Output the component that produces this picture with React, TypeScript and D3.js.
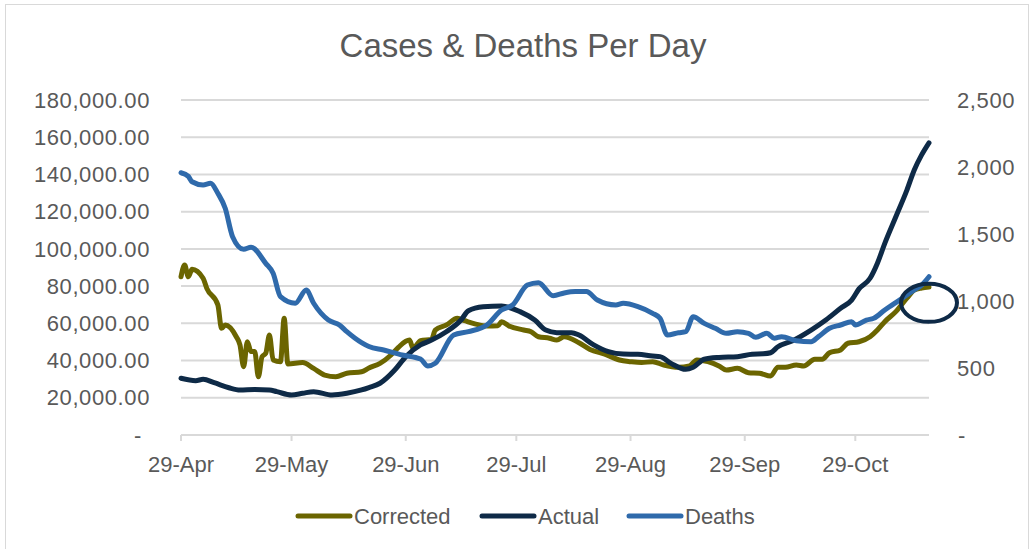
import React from "react";
import * as d3 from "d3";

const W = 1031;
const H = 549;

const startDate = new Date(2020, 3, 29);
const endDate = new Date(2020, 10, 18);

// [days after 29-Apr, value]
const corrected: [number, number][] = [
  [0, 85000], [1, 91300], [2, 85000], [3, 89000], [6, 84200], [7, 78800],
  [10, 69900], [11, 57300], [12, 59100], [15, 52800], [16, 48400], [17, 36700],
  [18, 50100], [19, 44800], [20, 44800], [21, 31300], [22, 42100], [23, 43900],
  [24, 53700], [25, 40300], [27, 39400], [28, 62700], [29, 38200], [33, 38900],
  [36, 35800], [39, 32200], [42, 31300], [45, 33200], [49, 34000], [51, 36000],
  [54, 38500], [57, 43000], [59, 47100], [62, 51000], [63, 46600], [65, 50700],
  [68, 51400], [69, 56400], [72, 59100], [75, 62700], [77, 61400], [80, 59600],
  [83, 58600], [86, 58700], [87, 60900], [89, 58600], [93, 56400], [95, 55500],
  [97, 52800], [100, 52000], [102, 51000], [104, 52800], [108, 49600], [111, 46000],
  [115, 43500], [119, 40300], [122, 39400], [125, 38900], [128, 39400], [131, 37600],
  [135, 36400], [138, 37100], [140, 40300], [143, 39400], [146, 37100], [148, 34900],
  [151, 35800], [154, 33500], [157, 33200], [160, 31700], [162, 36400], [164, 36400],
  [167, 37600], [169, 37100], [172, 40700], [174, 40700], [176, 44200], [179, 45700],
  [181, 49300], [184, 50100], [187, 52800], [189, 56400], [191, 60900], [194, 66300],
  [197, 73500], [199, 77900], [201, 79000], [203, 79500],
];

const actual: [number, number][] = [
  [0, 30500], [4, 29200], [6, 29900], [9, 28100], [13, 25400], [16, 24200],
  [20, 24500], [24, 24200], [26, 23300], [30, 21500], [33, 22400], [36, 23300],
  [41, 21500], [45, 22400], [49, 24200], [51, 25500], [54, 27800], [58, 34900],
  [61, 42100], [65, 48400], [68, 51000], [72, 55500], [76, 61800], [78, 66800],
  [82, 68900], [87, 69300], [92, 66300], [96, 61800], [99, 56400], [102, 55000],
  [106, 55000], [108, 53700], [112, 48400], [116, 44800], [120, 43500], [124, 43400],
  [128, 42400], [130, 42100], [133, 38500], [137, 35300], [139, 36400], [142, 40700],
  [146, 41700], [151, 42100], [155, 43400], [158, 43600], [160, 44200], [162, 47400],
  [166, 50700], [171, 56400], [175, 61800], [179, 68100], [182, 72500], [184, 78500],
  [187, 84200], [189, 92300], [191, 103000], [194, 117300], [197, 131600],
  [199, 142400], [201, 150500], [203, 157000],
];

const deaths: [number, number][] = [
  [0, 1957], [2, 1930], [3, 1890], [6, 1866], [8, 1878], [10, 1804], [12, 1692],
  [14, 1480], [17, 1386], [19, 1401], [23, 1281], [25, 1207], [27, 1032], [31, 983],
  [34, 1082], [36, 983], [40, 858], [43, 821], [45, 771], [49, 689], [51, 660],
  [55, 634], [60, 597], [65, 567], [67, 515], [69, 535], [74, 746], [78, 771],
  [83, 821], [87, 933], [90, 970], [94, 1119], [97, 1137], [101, 1040], [104, 1060],
  [107, 1070], [110, 1070], [113, 1007], [118, 970], [120, 983], [124, 958], [128, 908],
  [130, 871], [132, 746], [135, 763], [137, 771], [139, 883], [142, 833], [145, 796],
  [148, 759], [151, 771], [154, 759], [156, 729], [159, 759], [161, 722], [163, 734],
  [167, 704], [171, 696], [173, 734], [176, 796], [179, 821], [182, 846], [183, 821],
  [186, 858], [188, 871], [191, 933], [195, 1007], [199, 1082], [201, 1119], [203, 1181],
];

const leftTicks = [0, 20000, 40000, 60000, 80000, 100000, 120000, 140000, 160000, 180000];
const rightTicks = [0, 500, 1000, 1500, 2000, 2500];
const tickDates = ["2020-04-29", "2020-05-29", "2020-06-29", "2020-07-29", "2020-08-29", "2020-09-29", "2020-10-29"];
const seriesNames = ["Corrected", "Actual", "Deaths"];
const seriesColors = ["#6b6500", "#0e2a47", "#2f6aab"];

// circled annotation at the end of the corrected line (left axis units)
const circleValue = 71000;

const font = "'Liberation Sans', Arial, sans-serif";
const textColor = "#595959";
const gridColor = "#d9d9d9";

export default function App() {
  const x = d3.scaleTime().domain([startDate, endDate]).range([181, 929]);
  const yLeft = d3.scaleLinear().domain([0, 180000]).range([435, 100]);
  const yRight = d3.scaleLinear().domain([0, 2500]).range([435, 100]);

  const toDate = (d: number) => d3.timeDay.offset(startDate, d);
  const leftLine = d3
    .line<[number, number]>()
    .x((d) => x(toDate(d[0])))
    .y((d) => yLeft(d[1]))
    .curve(d3.curveMonotoneX);
  const rightLine = d3
    .line<[number, number]>()
    .x((d) => x(toDate(d[0])))
    .y((d) => yRight(d[1]))
    .curve(d3.curveMonotoneX);

  const fmtLeft = d3.format(",.2f");
  const fmtRight = d3.format(",");
  const fmtDate = d3.timeFormat("%d-%b");
  const parse = d3.timeParse("%Y-%m-%d");

  const paths = [leftLine(corrected), leftLine(actual), rightLine(deaths)];
  const legendX = [298, 482, 629];

  return (
    <svg
      width={W}
      height={H}
      style={{ position: "absolute", left: 0, top: 0, background: "#fff", fontFamily: font }}
    >
      <rect x={5.5} y={4.5} width={1023} height={570} fill="#fff" stroke={gridColor} />
      <text x={523} y={57} textAnchor="middle" fontSize={33} fill={textColor}>
        Cases &amp; Deaths Per Day
      </text>

      {leftTicks.map((t) => (
        <g key={"l" + t}>
          <line x1={181} x2={929} y1={yLeft(t)} y2={yLeft(t)} stroke={gridColor} strokeWidth={2} />
          <text
            x={t === 0 ? 142 : 150}
            y={yLeft(t)}
            dy="0.35em"
            textAnchor="end"
            fontSize={22}
            fill={textColor}
            letterSpacing={0.6}
          >
            {t === 0 ? "-" : fmtLeft(t)}
          </text>
        </g>
      ))}

      {rightTicks.map((t) => (
        <text
          key={"r" + t}
          x={t === 0 ? 958 : 957}
          y={yRight(t)}
          dy="0.35em"
          fontSize={22}
          fill={textColor}
          letterSpacing={0.6}
        >
          {t === 0 ? "-" : fmtRight(t)}
        </text>
      ))}

      {tickDates.map((s) => {
        const d = parse(s) as Date;
        const px = x(d);
        return (
          <g key={s}>
            <line x1={px} x2={px} y1={435} y2={441} stroke={gridColor} strokeWidth={2} />
            <text x={px} y={472} textAnchor="middle" fontSize={22} fill={textColor}>
              {fmtDate(d)}
            </text>
          </g>
        );
      })}

      {paths.map((p, i) => (
        <path
          key={seriesNames[i]}
          d={p || ""}
          fill="none"
          stroke={seriesColors[i]}
          strokeWidth={5}
          strokeLinejoin="round"
          strokeLinecap="round"
        />
      ))}

      <ellipse
        cx={x(endDate)}
        cy={yLeft(circleValue)}
        rx={28}
        ry={19}
        fill="none"
        stroke={seriesColors[1]}
        strokeWidth={4}
      />

      {seriesNames.map((n, i) => (
        <g key={"lg" + n}>
          <line
            x1={legendX[i]}
            x2={legendX[i] + 52}
            y1={516}
            y2={516}
            stroke={seriesColors[i]}
            strokeWidth={5}
            strokeLinecap="round"
          />
          <text x={legendX[i] + 56} y={523.5} fontSize={22} fill={textColor}>
            {n}
          </text>
        </g>
      ))}
    </svg>
  );
}
